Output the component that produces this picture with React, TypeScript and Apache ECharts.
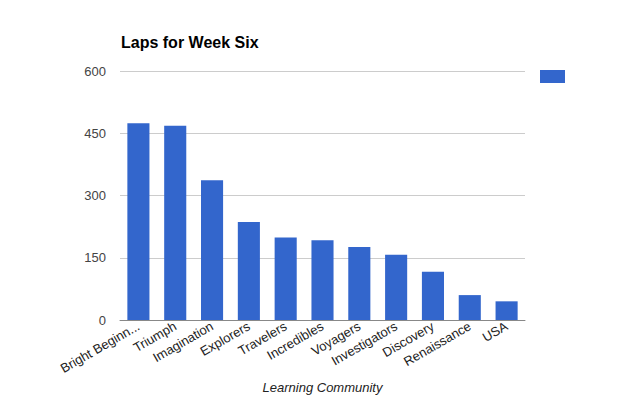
import React, { useEffect, useRef } from "react";
import * as echarts from "echarts";

const categories = [
  "Bright Beginnings",
  "Triumph",
  "Imagination",
  "Explorers",
  "Travelers",
  "Incredibles",
  "Voyagers",
  "Investigators",
  "Discovery",
  "Renaissance",
  "USA",
];
const laps = [474, 468, 337, 236, 199, 192, 176, 157, 116, 60, 45];
const yTicks = [0, 150, 300, 450, 600];

const FONT = "'Liberation Sans', Arial, sans-serif";

export default function App() {
  const ref = useRef<HTMLDivElement>(null);
  useEffect(() => {
    if (!ref.current) return;
    const chart = echarts.init(ref.current, null, { renderer: "svg" });
    chart.setOption({
      animation: false,
      backgroundColor: "#ffffff",
      title: {
        text: "Laps for Week Six",
        left: 116,
        top: 29,
        textStyle: { fontFamily: FONT, fontSize: 16, fontWeight: "bold", color: "#000" },
      },
      legend: {
        show: true,
        data: [{ name: "Laps", icon: "rect" }],
        right: 70,
        top: 65,
        itemWidth: 25,
        itemHeight: 13,
        formatter: () => "",
        textStyle: { fontSize: 1 },
      },
      grid: { left: 120, right: 115, top: 71, bottom: 77, outerBoundsMode: "none", containLabel: false },
      xAxis: {
        type: "category",
        data: categories,
        name: "Learning Community",
        nameLocation: "middle",
        nameGap: 61,
        nameTextStyle: { fontFamily: FONT, fontSize: 13, fontStyle: "italic", color: "#222" },
        axisLine: { lineStyle: { color: "#888", width: 1 } },
        axisTick: { show: false },
        axisLabel: {
          interval: 0,
          rotate: 30,
          margin: 5,
          fontFamily: FONT,
          fontSize: 13,
          color: "#222",
          formatter: (v: string) => (v.length > 13 ? v.slice(0, 13) + "..." : v),
        },
      },
      yAxis: {
        type: "value",
        min: yTicks[0],
        max: yTicks[yTicks.length - 1],
        interval: 150,
        axisLine: { show: false },
        axisTick: { show: false },
        axisLabel: { fontFamily: FONT, fontSize: 13, color: "#444", margin: 14 },
        splitLine: { lineStyle: { color: "#cccccc" } },
      },
      series: [
        {
          name: "Laps",
          type: "bar",
          data: laps,
          barWidth: "60%",
          itemStyle: { color: "#3366cc" },
        },
      ],
    });
    return () => chart.dispose();
  }, []);
  return <div ref={ref} style={{ width: 640, height: 397, marginLeft: -8, marginTop: -8 }} />;
}
